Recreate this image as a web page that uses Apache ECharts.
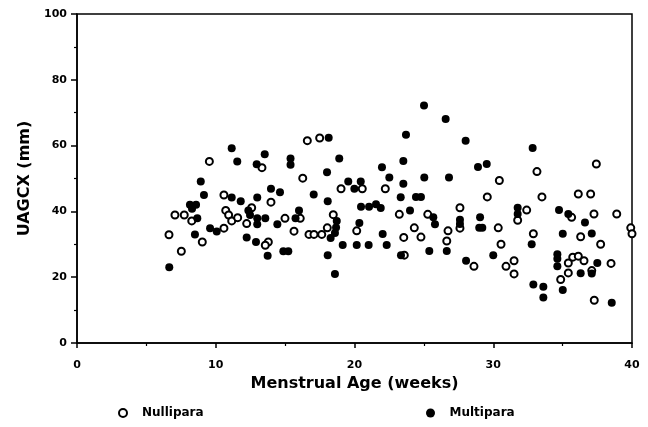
<!DOCTYPE html>
<html>
<head>
<meta charset="utf-8">
<script src="https://cdn.jsdelivr.net/npm/echarts@6/dist/echarts.min.js"></script>
<style>html,body{margin:0;padding:0;background:#fff}#c{width:648px;height:427px}</style>
</head>
<body>
<div id="c"></div>
<script>
const xTicks = [0, 10, 20, 30, 40];
const yTicks = [0, 20, 40, 60, 80, 100];

const nulliparaAge = [9.54,13.33,10.59,13.98,7.06,7.73,8.27,6.63,7.52,9.03,10.59,10.72,10.93,11.15,11.58,12.59,12.23,13.79,13.57,14.99,15.64,16.60,17.49,16.27,19.03,20.56,22.22,16.09,18.47,18.04,16.72,17.08,17.64,20.16,23.23,25.28,24.31,23.55,24.79,26.74,26.65,23.59,37.43,33.15,30.44,29.57,33.51,36.13,37.02,27.60,27.60,30.36,32.41,31.76,35.65,37.26,38.90,39.91,40.0,32.89,30.56,36.30,37.74,28.61,30.92,31.50,31.50,35.73,36.13,36.54,35.41,38.49,35.41,37.10,34.86,37.28];
const nulliparaUAGCX = [55.2,53.3,45.0,42.8,38.9,38.9,37.1,32.9,27.9,30.7,34.9,40.3,38.9,37.1,38.1,41.1,36.3,30.7,29.7,37.9,34.0,61.5,62.3,50.1,46.9,46.9,46.9,37.9,39.0,35.0,33.0,33.0,33.0,34.1,39.1,39.1,35.0,32.1,32.2,34.1,31.0,26.7,54.4,52.1,49.4,44.4,44.4,45.3,45.3,41.1,34.9,35.0,40.4,37.3,38.2,39.2,39.2,35.0,33.2,33.2,30.0,32.3,30.0,23.3,23.3,25.0,21.0,26.1,26.4,25.0,24.3,24.2,21.3,22.0,19.3,13.0];

const multiparaAge = [11.15,11.55,13.53,12.95,15.39,15.39,8.92,9.15,11.15,11.80,12.99,13.98,14.63,8.14,8.58,8.29,8.67,6.65,8.50,9.59,10.07,12.35,12.47,12.99,12.99,13.57,12.23,12.90,13.74,14.44,15.75,14.87,15.23,16.0,25.01,26.57,23.71,18.14,18.90,23.52,21.98,18.02,22.51,25.03,26.81,23.52,19.55,20.45,19.99,17.06,18.07,23.33,24.43,24.79,20.47,21.05,21.55,21.89,18.72,18.67,18.59,18.28,20.35,22.03,24.0,25.68,25.80,26.65,25.39,19.15,20.16,21.02,22.32,18.07,23.35,18.59,28.01,32.84,28.90,29.53,29.05,28.99,29.21,27.60,27.60,31.76,31.76,34.74,35.41,36.61,35.01,32.77,37.10,30.0,28.04,34.62,34.62,34.62,37.50,36.30,37.10,32.89,33.61,33.61,35.01,38.54];
const multiparaUAGCX = [59.2,55.2,57.4,54.3,56.1,54.2,49.1,45.0,44.2,43.1,44.2,46.9,45.8,42.0,42.0,40.8,37.9,23.0,33.0,34.9,33.9,40.3,38.9,37.9,36.1,37.9,32.1,30.7,26.5,36.1,37.9,27.9,27.9,40.3,72.2,68.1,63.3,62.4,56.1,55.3,53.4,51.9,50.3,50.3,50.3,48.4,49.1,49.1,46.9,45.1,43.1,44.3,44.4,44.4,41.4,41.4,42.2,41.0,37.1,35.1,33.4,31.9,36.5,33.1,40.3,38.2,36.1,28.0,28.0,29.8,29.8,29.8,29.8,26.7,26.7,21.0,61.5,59.3,53.5,54.4,38.2,35.0,35.0,37.5,36.2,41.1,39.2,40.4,39.2,36.6,33.2,30.0,33.3,26.7,25.0,27.0,25.6,23.3,24.3,21.2,21.1,17.8,17.1,13.8,16.1,12.2];

const pairs = (xs, ys) => xs.map((x, i) => [x, ys[i]]);
const FONT = '"DejaVu Sans", sans-serif';
const legendText = {fontFamily: FONT, fontWeight: 'bold', fontSize: 12, color: '#000', padding: [0, 0, 0, 1]};

const chart = echarts.init(document.getElementById('c'), null, {renderer: 'canvas'});
chart.setOption({
  animation: false,
  backgroundColor: '#fff',
  grid: {left: 77, right: 16, top: 14, bottom: 84, show: true, borderColor: '#000', borderWidth: 1.5, containLabel: false},
  xAxis: {
    type: 'value', min: xTicks[0], max: xTicks[xTicks.length - 1], interval: 10,
    name: 'Menstrual Age (weeks)', nameLocation: 'middle', nameGap: 33,
    nameTextStyle: {fontFamily: FONT, fontWeight: 'bold', fontSize: 16, color: '#000'},
    axisLine: {lineStyle: {color: '#000', width: 1.5}},
    axisTick: {show: true, length: 5, lineStyle: {color: '#000', width: 1.5}},
    minorTick: {show: true, splitNumber: 2, length: 3, lineStyle: {color: '#000', width: 1.2}},
    splitLine: {show: false},
    axisLabel: {fontFamily: FONT, fontSize: 11, fontWeight: 'bold', color: '#000', margin: 17}
  },
  yAxis: {
    type: 'value', min: yTicks[0], max: yTicks[yTicks.length - 1], interval: 20,
    name: 'UAGCX (mm)', nameLocation: 'middle', nameGap: 39, nameRotate: 90,
    nameTextStyle: {fontFamily: FONT, fontWeight: 'bold', fontSize: 16, color: '#000'},
    axisLine: {lineStyle: {color: '#000', width: 1.5}},
    axisTick: {show: true, length: 6, lineStyle: {color: '#000', width: 1.5}},
    minorTick: {show: true, splitNumber: 2, length: 3, lineStyle: {color: '#000', width: 1.2}},
    splitLine: {show: false},
    axisLabel: {fontFamily: FONT, fontSize: 11, fontWeight: 'bold', color: '#000', margin: 10}
  },
  legend: [
    {data: ['Nullipara'], left: 113, top: 402, itemWidth: 26, itemHeight: 8, icon: 'circle', textStyle: legendText},
    {data: ['Multipara'], left: 421, top: 402, itemWidth: 26, itemHeight: 9, icon: 'circle', textStyle: legendText}
  ],
  series: [
    {name: 'Nullipara', type: 'scatter', symbol: 'circle', symbolSize: 7,
     itemStyle: {color: '#fff', borderColor: '#000', borderWidth: 2, opacity: 1},
     data: pairs(nulliparaAge, nulliparaUAGCX)},
    {name: 'Multipara', type: 'scatter', symbol: 'circle', symbolSize: 8,
     itemStyle: {color: '#000', borderColor: '#000', borderWidth: 0, opacity: 1},
     data: pairs(multiparaAge, multiparaUAGCX)}
  ]
});
</script>
</body>
</html>
